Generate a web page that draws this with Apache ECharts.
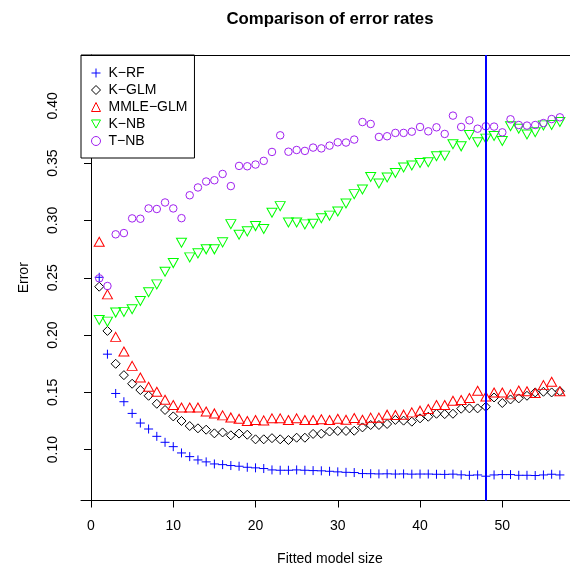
<!DOCTYPE html>
<html><head><meta charset="utf-8">
<script src="https://cdn.jsdelivr.net/npm/echarts@6/dist/echarts.min.js"></script>
<style>html,body{margin:0;padding:0;background:#fff}#c{width:570px;height:573px}</style>
</head><body><div id="c"></div>
<script>
const sizes = [1,2,3,4,5,6,7,8,9,10,11,12,13,14,15,16,17,18,19,20,21,22,23,24,25,26,27,28,29,30,31,32,33,34,35,36,37,38,39,40,41,42,43,44,45,46,47,48,49,50,51,52,53,54,55,56,57];
const kRF = [0.2504,0.1833,0.149,0.1418,0.1316,0.1232,0.118,0.1116,0.1064,0.1026,
  0.0971,0.0939,0.091,0.0893,0.0875,0.0869,0.0861,0.0855,0.0846,0.0841,
  0.0835,0.0823,0.082,0.082,0.0823,0.082,0.0817,0.0815,0.0811,0.0806,
  0.0802,0.080,0.0791,0.0790,0.0788,0.0789,0.0787,0.0788,0.0786,0.0787,
  0.0787,0.0785,0.0784,0.0786,0.0780,0.0776,0.0779,0.0768,0.0779,0.0782,
  0.0782,0.0776,0.0776,0.0774,0.0779,0.0785,0.0779];
const kGLM = [0.2422,0.2036,0.1749,0.165,0.1575,0.152,0.147,0.140,0.1346,0.129,
  0.125,0.1206,0.1186,0.1174,0.1142,0.115,0.1125,0.114,0.113,0.109,
  0.109,0.110,0.109,0.1084,0.1104,0.1104,0.1137,0.1139,0.1158,0.1163,
  0.1163,0.1165,0.1194,0.1215,0.1215,0.1224,0.1259,0.1253,0.1244,0.1273,
  0.1287,0.1313,0.131,0.1313,0.1357,0.136,0.136,0.1374,0.1455,0.1407,
  0.1438,0.1447,0.147,0.1499,0.1505,0.1499,0.151];
const mmleGLM = [0.2814,0.2355,0.1984,0.1856,0.1731,0.163,0.1549,0.1505,0.1435,0.1389,
  0.1368,0.1368,0.1368,0.1333,0.1316,0.1299,0.1281,0.127,0.125,0.1259,
  0.1255,0.1273,0.1273,0.1259,0.1273,0.1259,0.1259,0.1265,0.1259,0.127,
  0.126,0.1276,0.126,0.1279,0.1279,0.1305,0.1302,0.1305,0.1325,0.134,
  0.1354,0.1389,0.1389,0.1427,0.1433,0.145,0.1514,0.1464,0.1499,0.1499,
  0.1482,0.1516,0.151,0.1494,0.1563,0.1592,0.151];
const kNB = [0.2132,0.2117,0.2196,0.2202,0.2225,0.2297,0.2373,0.2442,0.2552,0.2628,
  0.2806,0.2678,0.2713,0.2748,0.2748,0.2809,0.2968,0.2875,0.2905,0.2951,
  0.2925,0.3067,0.3125,0.2983,0.2983,0.2966,0.2971,0.302,0.3042,0.3079,
  0.3148,0.323,0.327,0.338,0.3322,0.3375,0.3415,0.3462,0.348,0.3502,
  0.3508,0.356,0.3566,0.3665,0.3647,0.3746,0.3682,0.3714,0.3737,0.3694,
  0.3822,0.380,0.375,0.377,0.383,0.3833,0.386];
const tNB = [0.2495,0.2428,0.2879,0.289,0.3018,0.3015,0.3105,0.310,0.3157,0.3105,
  0.302,0.322,0.3288,0.334,0.3351,0.3406,0.330,0.3476,0.3473,0.3488,
  0.352,0.3598,0.3743,0.360,0.3615,0.3607,0.3636,0.3629,0.3653,0.3682,
  0.368,0.3706,0.3859,0.3842,0.3729,0.3735,0.3764,0.3764,0.3775,0.3816,
  0.3778,0.3813,0.3755,0.3915,0.3816,0.3874,0.3801,0.3822,0.3819,0.3769,
  0.3883,0.3833,0.3828,0.3833,0.385,0.3885,0.390];
const seriesNames = ['K\u2212RF','K\u2212GLM','MMLE\u2212GLM','K\u2212NB','T\u2212NB'];
const xTicks = [0,10,20,30,40,50];
const yTicks = [0.10,0.15,0.20,0.25,0.30,0.35,0.40];
const chosenSize = 48;

const FONT = '"Liberation Sans", Arial, Helvetica, sans-serif';
const PLUS = 'path://M0,5L10,5M5,0L5,10';
const DOWN = 'path://M0,0L10,0L5,9Z';
const chart = echarts.init(document.getElementById('c'), null, {renderer:'canvas'});
const colors = ['#0000ff','#000000','#ff0000','#00ff00','#a020f0'];
const symbols = [PLUS,'diamond','triangle',DOWN,'circle'];
const symSizes = [9,9,[10,9],[10,9],7.5];
function mk(i, vals) {
  return {
    name: seriesNames[i], type:'scatter', data: sizes.map((s,k)=>[s, vals[k]]),
    symbol: symbols[i], symbolSize: symSizes[i],
    itemStyle:{color:'none', borderColor:colors[i], borderWidth:1, opacity:1},
    emphasis:{disabled:true}, silent:true, animation:false, z:2
  };
}
const s0 = mk(0, kRF);
s0.markLine = {silent:true, symbol:['none','none'], label:{show:false},
  lineStyle:{color:'#0000ff', width:2, type:'solid'}, data:[{xAxis:chosenSize}], animation:false};
const series = [s0, mk(1, kGLM), mk(2, mmleGLM), mk(3, kNB), mk(4, tNB)];
chart.setOption({
  animation:false,
  backgroundColor:'#fff',
  grid:{left:81, top:55, right:0, bottom:72.5, show:false},
  xAxis:{type:'value', min:-1.2157, max:58.23,
    axisLine:{show:true, lineStyle:{color:'#000', width:1}}, splitLine:{show:false},
    axisTick:{show:true, length:7, lineStyle:{color:'#000', width:1}, customValues:xTicks},
    axisLabel:{customValues:xTicks, margin:19, fontSize:14, color:'#000', fontFamily:FONT},
    name:'Fitted model size', nameLocation:'middle', nameGap:52,
    nameTextStyle:{fontSize:14, color:'#000', fontFamily:FONT, padding:[0,0,0,9]}},
  yAxis:{type:'value', min:0.0556, max:0.4444,
    axisLine:{show:true, lineStyle:{color:'#000', width:1}}, splitLine:{show:false},
    axisTick:{show:true, length:7, lineStyle:{color:'#000', width:1}, customValues:yTicks},
    axisLabel:{customValues:yTicks, rotate:90, margin:21, fontSize:14, color:'#000', fontFamily:FONT,
      formatter:v=>v.toFixed(2)},
    name:'Error', nameLocation:'middle', nameGap:50, nameRotate:90,
    nameTextStyle:{fontSize:14, color:'#000', fontFamily:FONT}},
  legend:{orient:'vertical', left:81, top:55, backgroundColor:'#fff', borderColor:'#000', borderWidth:1,
    borderRadius:0, padding:[11,7,10,8], itemWidth:9, itemHeight:9, itemGap:3,
    selectedMode:false,
    data: seriesNames.map((n,i)=>({name:n, icon:symbols[i],
      itemStyle:{color:'none', borderColor:colors[i], borderWidth:1}})),
    textStyle:{fontSize:14, lineHeight:14, color:'#000', fontFamily:FONT, padding:[0,0,0,3]}},
  graphic:[
    {type:'line', z:5, shape:{x1:81, y1:55.5, x2:570, y2:55.5}, style:{stroke:'#000', lineWidth:1}},
    {type:'text', x:330, y:19, z:10,
    style:{text:'Comparison of error rates', font:'bold 16.8px "Liberation Sans", Arial, sans-serif',
      align:'center', verticalAlign:'middle', fill:'#000'}}],
  series
});
</script></body></html>
